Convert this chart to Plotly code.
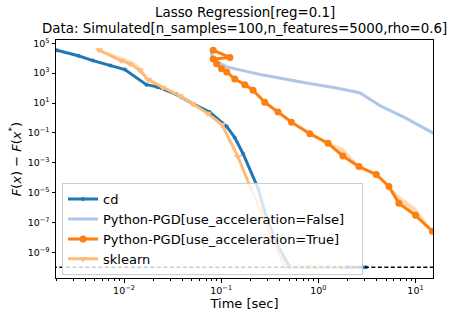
import plotly.graph_objects as go

# ---------------- data ----------------
cd_t = [0.00204, 0.00339, 0.00479, 0.00724, 0.0102, 0.0170, 0.0219, 0.0347, 0.0513,
        0.0759, 0.114, 0.138, 0.168, 0.240, 0.293, 0.372, 0.508, 0.794, 1.26, 2.0, 3.09]
cd_f = [3.4e4, 1.45e4, 6.9e3, 3.3e3, 1.74e3, 170, 120, 38, 8.7,
        2.5, 0.27, 0.048, 4.0e-3, 1.9e-5, 2.0e-7, 3.8e-9, 1e-10, 1e-10, 1e-10, 1e-10, 1e-10]

pgd_t = [0.0796, 0.081, 0.114, 0.270, 0.755, 1.53, 2.66, 4.28, 8.04, 15.1, 20.0]
pgd_f = [3.0e4, 8.9e3, 2.6e3, 740, 219, 102, 49, 6.8, 0.93, 0.10, 0.037]
pgd_hi = [3.3e4, 1.0e4, 2.9e3, 830, 250, 130, 60, 8.5, 1.15, 0.12, 0.045]
pgd_lo = [2.7e4, 8.0e3, 2.35e3, 660, 195, 92, 43, 5.9, 0.80, 0.088, 0.032]

acc_t = [0.0828, 0.123, 0.0828, 0.0897, 0.101, 0.114, 0.138, 0.175, 0.213, 0.281, 0.385,
         0.530, 0.817, 1.26, 1.79, 2.62, 3.95, 5.33, 6.75, 10.0, 14.9, 20.0]
acc_f = [3.4e4, 1.12e4, 8.9e3, 4.3e3, 2.0e3, 1.2e3, 407, 170, 72, 11.2, 2.5,
         0.51, 0.089, 0.020, 2.8e-3, 5.5e-4, 1.6e-4, 2.6e-5, 1.9e-6, 3.0e-7, 2.6e-8, 4.4e-9]
acc_hi = [3.8e4, 1.4e4, 1.0e4, 4.8e3, 2.3e3, 1.4e3, 470, 200, 85, 13, 2.9,
          0.58, 0.10, 0.024, 1.0e-2, 6.3e-4, 1.9e-4, 3.0e-5, 6.3e-6, 1.0e-6, 3.0e-8, 5.0e-9]
acc_lo = [3.0e4, 1.0e4, 7.9e3, 3.8e3, 1.8e3, 1.05e3, 360, 150, 63, 9.8, 2.2,
          0.45, 0.078, 0.017, 2.5e-3, 4.8e-4, 1.4e-4, 2.3e-5, 1.7e-6, 2.6e-7, 2.3e-8, 3.9e-9]

sk_t = [0.00553, 0.00931, 0.0115, 0.0146, 0.0177, 0.0251, 0.0377, 0.0513, 0.0729, 0.102,
        0.149, 0.200, 0.282, 0.355, 0.452, 0.646, 0.986, 1.78]
sk_f = [3.5e4, 6.9e3, 4.3e3, 1.55e3, 355, 107, 29.5, 8.7, 1.95, 0.35,
        2.5e-3, 2.2e-5, 1.6e-7, 4e-9, 1e-10, 1e-10, 1e-10, 1e-10]
sk_hi = [4.2e4, 1.2e4, 7.5e3, 2.8e3, 560, 150, 38, 11, 2.4, 0.45,
         3.2e-3, 2.8e-5, 2.0e-7, 5e-9, 1.1e-10, 1.1e-10, 1.1e-10, 1.1e-10]
sk_lo = [3.0e4, 6.0e3, 3.8e3, 1.35e3, 310, 92, 25, 7.5, 1.7, 0.30,
         2.1e-3, 1.9e-5, 1.4e-7, 3.4e-9, 0.9e-10, 0.9e-10, 0.9e-10, 0.9e-10]

eps = 1e-10
x_ticks = [1e-2, 1e-1, 1e0, 1e1]
x_labels = ["10<sup>−2</sup>", "10<sup>−1</sup>", "10<sup>0</sup>", "10<sup>1</sup>"]
y_ticks = [1e5, 1e3, 1e1, 1e-1, 1e-3, 1e-5, 1e-7, 1e-9]
y_labels = ["10<sup>5</sup>", "10<sup>3</sup>", "10<sup>1</sup>", "10<sup>−1</sup>",
            "10<sup>−3</sup>", "10<sup>−5</sup>", "10<sup>−7</sup>", "10<sup>−9</sup>"]

C_CD = "#1f77b4"
C_PGD = "#aec7e8"
C_ACC = "#ff7f0e"
C_SK = "#ffbb78"

FONT = "DejaVu Sans"

fig = go.Figure()


def band(t, lo, hi, color, opacity):
    fig.add_trace(go.Scatter(x=list(t) + list(t)[::-1], y=list(hi) + list(lo)[::-1],
                             mode="lines", fill="toself", fillcolor=color, opacity=opacity,
                             line=dict(width=0, color=color), hoverinfo="skip",
                             showlegend=False))


# cd
fig.add_trace(go.Scatter(x=cd_t, y=cd_f, mode="lines+markers", name="cd",
                         line=dict(color=C_CD, width=3), marker=dict(size=4, color=C_CD)))
# PGD no acceleration
band(pgd_t, pgd_lo, pgd_hi, C_PGD, 0.45)
fig.add_trace(go.Scatter(x=pgd_t, y=pgd_f, mode="lines",
                         name="Python-PGD[use_acceleration=False]\u00a0\u00a0\u00a0",
                         line=dict(color=C_PGD, width=3)))
# PGD accelerated
band(acc_t, acc_lo, acc_hi, C_ACC, 0.3)
fig.add_trace(go.Scatter(x=acc_t, y=acc_f, mode="lines+markers",
                         name="Python-PGD[use_acceleration=True]",
                         line=dict(color=C_ACC, width=3), marker=dict(size=7, color=C_ACC)))
# sklearn
band(sk_t, sk_lo, sk_hi, C_SK, 0.45)
fig.add_trace(go.Scatter(x=sk_t, y=sk_f, mode="lines+markers", name="sklearn",
                         line=dict(color=C_SK, width=3),
                         marker=dict(size=7, color=C_SK, symbol="triangle-down")))
# reference line
fig.add_trace(go.Scatter(x=[1e-3, 1e2], y=[eps, eps], mode="lines", showlegend=False,
                         line=dict(color="black", width=1.3, dash="4px,2.5px"),
                         hoverinfo="skip"))

minor_x = [m * 10 ** k for k in range(-3, 2) for m in range(2, 10)]

axis_common = dict(type="log", showline=True, linecolor="black", linewidth=1, mirror=True,
                   ticks="outside", ticklen=3.5, tickcolor="black", showgrid=False,
                   zeroline=False, tickfont=dict(family=FONT, size=9.5, color="black"))

fig.update_layout(
    width=451, height=320,
    margin=dict(l=56, r=17.7, t=40, b=34.3),
    paper_bgcolor="white", plot_bgcolor="white",
    font=dict(family=FONT, color="black"),
    xaxis=dict(axis_common, range=[-2.70, 1.18], tickvals=x_ticks, ticktext=x_labels,
               minor=dict(ticks="outside", ticklen=2, tickcolor="black", tickvals=minor_x),
               title=dict(text="Time [sec]", font=dict(family=FONT, size=13), standoff=3)),
    yaxis=dict(axis_common, range=[-10.72, 5.22], tickvals=y_ticks, ticktext=y_labels,
               title=dict(text="<i>F</i>(<i>x</i>) − <i>F</i>(<i>x</i><sup>*</sup>)",
                          font=dict(family=FONT, size=13), standoff=3)),
    legend=dict(x=0.016, y=0.012, xanchor="left", yanchor="bottom",
                bgcolor="rgba(255,255,255,0.8)", bordercolor="#cccccc", borderwidth=1,
                font=dict(family=FONT, size=13, color="black")),
    annotations=[
        dict(text="Lasso Regression[reg=0.1]", xref="paper", yref="paper", x=0.5, y=1.114,
             showarrow=False, xanchor="center", yanchor="middle",
             font=dict(family=FONT, size=13.4, color="black")),
        dict(text="Data: Simulated[n_samples=100,n_features=5000,rho=0.6]", xref="paper",
             yref="paper", x=0.5, y=1.049, showarrow=False, xanchor="center",
             yanchor="middle", font=dict(family=FONT, size=13.4, color="black")),
    ],
)

fig.write_html("out.html")
